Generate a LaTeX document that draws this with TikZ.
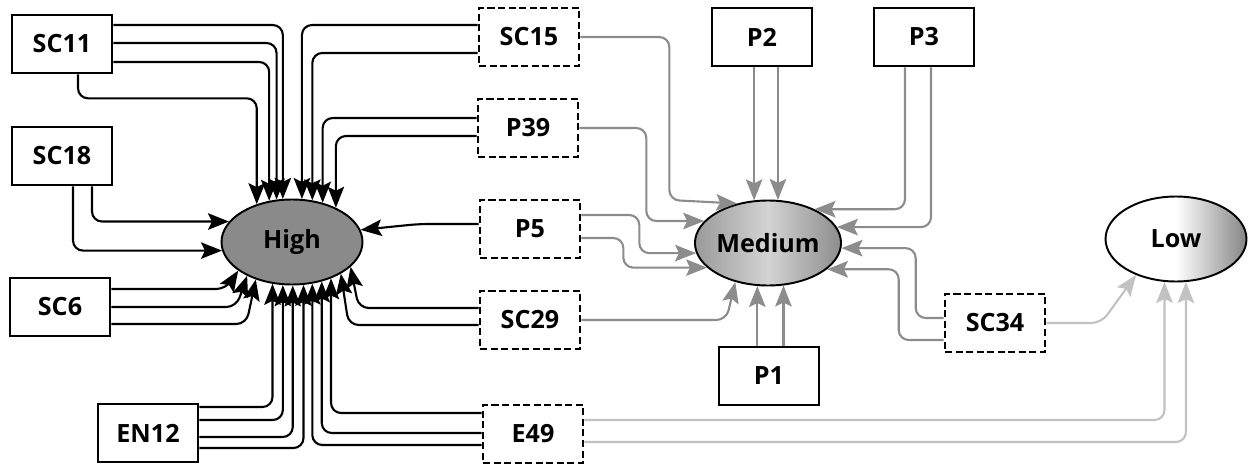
\documentclass[tikz,border=0pt]{standalone}
\usepackage{fontspec}
\setmainfont{Open Sans}
\usepackage{tikz}
\usetikzlibrary{arrows.meta,calc,shapes.geometric}

\definecolor{midgray}{gray}{0.55}
\definecolor{lightline}{gray}{0.76}

\begin{document}
\begin{tikzpicture}[x=0.02cm, y=-0.02cm,
    font=\fontsize{14.3}{17}\selectfont\bfseries,
    box/.style={draw, line width=1.5pt, minimum width=2cm, minimum height=1.16cm, inner sep=0pt},
    dbox/.style={box, dash pattern=on 4pt off 2pt},
    level/.style={draw, ellipse, line width=1.1pt, minimum width=2.82cm, minimum height=1.7cm, inner sep=0pt},
    link/.style={line width=1.2pt, rounded corners=2mm, -{Stealth[length=4.2mm,width=3.3mm,inset=0.8mm]}},
    hi/.style={link, black},
    mid/.style={link, midgray},
    lo/.style={link, lightline}]
    \useasboundingbox (0,0) rectangle (1250,466);

    \node[level, fill=black!46] (High) at (292,242) {High};
    \node[level, left color=black!40, right color=black!45, middle color=black!17] (Medium) at (768,243) {Medium};
    \node[level, left color=white, right color=black!48, middle color=white] (Low) at (1176,239) {Low};

    \node[box] (SC11) at (62,44) {SC11};
    \node[box] (SC18) at (62,156) {SC18};
    \node[box] (SC6) at (60,307) {SC6};
    \node[box] (EN12) at (148,433) {EN12};
    \node[dbox] (SC15) at (529,37) {SC15};
    \node[dbox] (P39) at (528,128) {P39};
    \node[dbox] (P5) at (530,229) {P5};
    \node[dbox] (SC29) at (530,320) {SC29};
    \node[dbox] (E49) at (533,434) {E49};
    \node[box] (P2) at (762,37) {P2};
    \node[box] (P3) at (924,37) {P3};
    \node[box] (P1) at (769,376) {P1};
    \node[dbox] (SC34) at (995,323) {SC34};

    \draw[hi] ($(SC11.east)+(0,-19)$) -| (High.102);
    \draw[hi] ($(SC11.east)+(0,-1)$) -| (High.110);
    \draw[hi] ($(SC11.east)+(0,18)$) -| (High.119);
    \draw[hi] ($(SC11.south)+(16,0)$) |- ++(150,24) -| (High.133);
    \draw[hi] ($(SC15.west)+(0,-12)$) -| (High.77);
    \draw[hi] ($(SC15.west)+(0,16)$) -| (High.64);
    \draw[hi] ($(P39.west)+(0,-10)$) -| (High.52);
    \draw[hi] ($(P39.west)+(0,8)$) -| (High.38);
    \draw[hi] ($(SC18.south)+(30,0)$) |- (High.162);
    \draw[hi] ($(SC18.south)+(11,0)$) |- (High.187);
    \draw[hi] ($(P5.west)+(0,-5)$) -- ++(-60,0) -- (High.10);
    \draw[hi] ($(SC6.east)+(0,-18)$) -- ++(115,0) -- (High.208);
    \draw[hi] (SC6.east) -- ++(125,0) -- (High.217);
    \draw[hi] ($(SC6.east)+(0,17)$) -- ++(135,0) -- (High.226);
    \draw[hi] ($(EN12.east)+(0,-26)$) -| (High.245);
    \draw[hi] ($(EN12.east)+(0,-13)$) -| (High.258);
    \draw[hi] ($(EN12.east)+(0,4)$) -| (High.271);
    \draw[hi] ($(EN12.east)+(0,15)$) -| (High.285);
    \draw[hi] ($(E49.west)+(0,-21)$) -| (High.317);
    \draw[hi] ($(E49.west)+(0,-1)$) -| (High.307);
    \draw[hi] ($(E49.west)+(0,11)$) -| (High.296);
    \draw[hi] ($(SC29.west)+(0,-12)$) -- ++(-120,0) -- (High.337);
    \draw[hi] ($(SC29.west)+(0,5)$) -- ++(-130,0) -- (High.327);

    \draw[mid] (SC15.east) -- ++(89,0) -- ++(0,163) -- (Medium.128);
    \draw[mid] (P39.east) -- ++(67,0) |- (Medium.161);
    \draw[mid] ($(P5.east)+(0,-14)$) -- ++(58,0) |- (Medium.188);
    \draw[mid] ($(P5.east)+(0,9)$) -- ++(42,0) |- (Medium.202);
    \draw[mid] (SC29.east) -- ++(145,0) -- (Medium.230);
    \draw[mid] (Medium.108 |- P2.south) -- (Medium.108);
    \draw[mid] (Medium.77 |- P2.south) -- (Medium.77);
    \draw[mid] ($(P3.south)+(-19,0)$) |- (Medium.36);
    \draw[mid] ($(P3.south)+(7,0)$) |- (Medium.13);
    \draw[mid] ($(SC34.west)+(0,-5)$) -- ++(-28,0) |- (Medium.356);
    \draw[mid] ($(SC34.west)+(0,17)$) -- ++(-45,0) |- (Medium.336);
    \draw[mid] (Medium.256 |- P1.north) -- (Medium.256);
    \draw[mid] (Medium.290 |- P1.north) -- (Medium.290);

    \draw[lo] (SC34.east) -- ++(55,0) -- (Low.222);
    \draw[lo] ($(E49.east)+(0,-14)$) -| (Low.255);
    \draw[lo] ($(E49.east)+(0,8)$) -| (Low.283);
\end{tikzpicture}
\end{document}
